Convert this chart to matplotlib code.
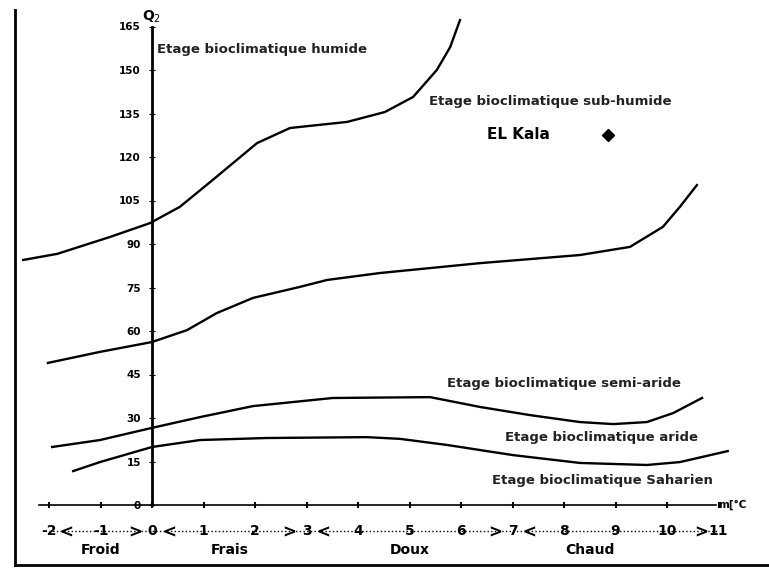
import numpy as np
import matplotlib.pyplot as plt
from matplotlib.lines import Line2D

# Emberger climagram: Q2 vs m (degC)
# stage boundary curves
humide_x = [-2.50, -1.84, -0.82, -0.04, 0.54, 1.18, 2.04, 2.68, 3.79, 4.52, 5.07, 5.53, 5.79, 5.98]
humide_y = [84.5, 86.6, 92.4, 97.2, 102.8, 112.1, 124.8, 130.0, 132.1, 135.5, 140.7, 150.0, 157.9, 167.2]

subhum_x = [-2.02, -1.01, 0.0, 0.68, 1.26, 1.96, 2.87, 3.40, 4.43, 6.37, 8.31, 9.28, 9.92, 10.25, 10.58]
subhum_y = [49.0, 52.8, 56.2, 60.3, 66.2, 71.4, 75.2, 77.6, 80.0, 83.4, 86.2, 89.0, 95.9, 102.8, 110.3]

semiar_x = [-1.94, -1.01, 0.0, 0.93, 1.96, 3.51, 5.40, 6.37, 7.34, 8.31, 8.95, 9.61, 10.12, 10.68]
semiar_y = [20.0, 22.4, 26.6, 30.3, 34.1, 36.9, 37.2, 33.8, 31.0, 28.6, 27.9, 28.6, 31.7, 36.9]

aride_x = [-1.53, -1.01, 0.0, 0.93, 2.23, 4.17, 4.82, 5.73, 7.01, 8.31, 9.61, 10.25, 11.18]
aride_y = [11.7, 14.8, 20.0, 22.4, 23.1, 23.4, 22.8, 20.7, 17.2, 14.5, 13.8, 14.8, 18.6]

# station
station = "EL Kala"
station_m = 8.85
station_q2 = 127.6

# stage labels and where they sit
stage_labels = ["Etage bioclimatique humide", "Etage bioclimatique sub-humide",
                "Etage bioclimatique semi-aride", "Etage bioclimatique aride",
                "Etage bioclimatique Saharien"]
stage_lx = [0.1, 5.38, 5.73, 6.85, 6.6]
stage_ly = [156.9, 139.0, 42.0, 23.4, 8.6]

y_ticks = list(range(0, 166, 15))
x_ticks = list(range(-2, 12))

# winter classes
class_names = ["Froid", "Frais", "Doux", "Chaud"]
class_centers = [-1, 1.5, 5, 8.5]
class_bounds = [-2, 0, 3, 7, 11]

fig = plt.figure(figsize=(7.69, 5.69), dpi=100)
ax = fig.add_axes([0, 0, 1, 1])
ax.set_xlim(-152 / 51.5, (769 - 152) / 51.5)
ax.set_ylim((505 - 569) / 2.9, 505 / 2.9)

for xs, ys in [(humide_x, humide_y), (subhum_x, subhum_y),
               (semiar_x, semiar_y), (aride_x, aride_y)]:
    ax.plot(xs, ys, color='black', lw=1.7, solid_joinstyle='round')

ax.plot(station_m, station_q2, marker='D', color='black', ms=6)
ax.text(6.5, station_q2, station, fontsize=11, fontweight='bold', va='center')

for lab, lx, ly in zip(stage_labels, stage_lx, stage_ly):
    ax.text(lx, ly, lab, fontsize=9.5, fontweight='bold', va='center', color='#222222')

# axes through the origin
for s in ['top', 'right']:
    ax.spines[s].set_visible(False)
ax.spines['left'].set_position(('data', 0))
ax.spines['bottom'].set_position(('data', 0))
ax.spines['left'].set_bounds(0, 165)
ax.spines['bottom'].set_bounds(-2.2, 10.95)
ax.spines['left'].set_linewidth(2)
ax.spines['bottom'].set_linewidth(1.2)

ax.set_yticks(y_ticks)
ax.set_yticklabels([str(v) for v in y_ticks], fontsize=7.5, fontweight='bold')
ax.tick_params(axis='y', direction='inout', length=4, pad=6)
ax.set_xticks(x_ticks)
ax.set_xticklabels([str(v) for v in x_ticks], fontsize=10, fontweight='bold')
ax.tick_params(axis='x', direction='inout', length=4, width=1.5, pad=12)

ax.text(0, 168.5, "Q$_2$", fontsize=10, fontweight='bold', ha='center', va='center')
ax.text(11.0, 0, "m[°C", fontsize=7.5, fontweight='bold', va='center')

# dotted row under the axis with the class arrows
row_y = -8.8
ax.plot([class_bounds[0], class_bounds[-1]], [row_y, row_y], ls=':', color='black', lw=1, zorder=0)
for b in class_bounds[1:]:
    ax.text(b - 0.33, row_y - 0.8, ">", fontsize=12, fontweight='bold', ha='center', va='center')
for b in class_bounds[:-1]:
    ax.text(b + 0.33, row_y - 0.8, "<", fontsize=12, fontweight='bold', ha='center', va='center')
for name, cx in zip(class_names, class_centers):
    ax.text(cx, -15.5, name, fontsize=10, fontweight='bold', ha='center', va='center')

# outer frame (left and bottom only)
fig.add_artist(Line2D([15 / 769, 15 / 769], [4 / 569, 559 / 569], color='black', lw=2))
fig.add_artist(Line2D([15 / 769, 1], [4 / 569, 4 / 569], color='black', lw=2))

fig.savefig("out.png", dpi=100)
